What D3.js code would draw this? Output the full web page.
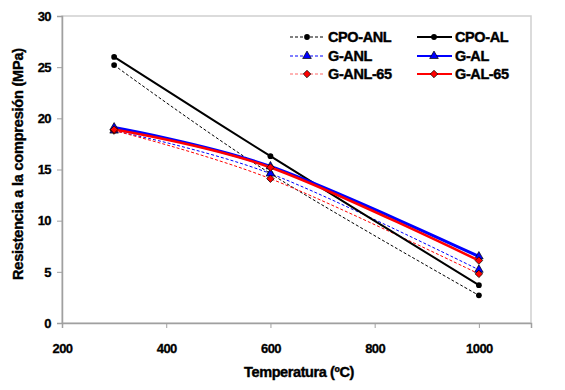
<!DOCTYPE html>
<html>
<head>
<meta charset="utf-8">
<script src="https://cdn.jsdelivr.net/npm/d3@7"></script>
<style>
  body { margin: 0; background: #fff; }
  text { font-family: "Liberation Sans", Arial, sans-serif; font-weight: bold; }
</style>
</head>
<body>
<div id="chart"></div>
<script>
const temps = [300, 600, 1000];
const cpoAnl = [25.2, 14.6, 2.7];
const cpoAl = [26.0, 16.3, 3.7];
const gAnl = [18.8, 14.6, 5.2];
const gAl = [19.1, 15.3, 6.5];
const gAnl65 = [18.8, 14.1, 4.8];
const gAl65 = [18.9, 15.2, 6.1];
const xTicks = [200, 400, 600, 800, 1000];
const yTicks = [0, 5, 10, 15, 20, 25, 30];

const series = [
  {name: 'CPO-ANL', values: cpoAnl, color: '#000', dash: '3,2', w: 1, marker: 'circle', col: 0, row: 0},
  {name: 'G-ANL', values: gAnl, color: '#0000ff', dash: '3,2', w: 1, marker: 'triangle', col: 0, row: 1},
  {name: 'G-ANL-65', values: gAnl65, color: '#ff0000', dash: '3,2', w: 1, marker: 'diamond', col: 0, row: 2},
  {name: 'CPO-AL', values: cpoAl, color: '#000', dash: null, w: 2, marker: 'circle', col: 1, row: 0},
  {name: 'G-AL', values: gAl, color: '#0000ff', dash: null, w: 3, marker: 'triangle', col: 1, row: 1},
  {name: 'G-AL-65', values: gAl65, color: '#ff0000', dash: null, w: 2.5, marker: 'diamond', col: 1, row: 2}
];

const width = 565, height = 390;
const margin = {top: 16, right: 34, bottom: 67, left: 62};
const w = width - margin.left - margin.right, h = height - margin.top - margin.bottom;

const svg = d3.select('#chart').append('svg').attr('width', width).attr('height', height);
const g = svg.append('g').attr('transform', 'translate(' + margin.left + ',' + margin.top + ')');

const x = d3.scaleLinear().domain([200, 1100]).range([0, w]);
const y = d3.scaleLinear().domain([0, 30]).range([h, 0]);

// frame
g.append('rect').attr('x', 0).attr('y', 0).attr('width', w).attr('height', h)
  .attr('fill', 'none').attr('stroke', '#cfcfcf').attr('stroke-width', 1.5);

const xAxis = g.append('g').attr('transform', 'translate(0,' + h + ')')
  .call(d3.axisBottom(x).tickValues(xTicks).tickFormat(d3.format('d')).tickSize(5).tickPadding(16));
const yAxis = g.append('g')
  .call(d3.axisLeft(y).tickValues(yTicks).tickSize(5).tickPadding(6));
[xAxis, yAxis].forEach(a => {
  a.select('.domain').attr('stroke', '#a0a0a0').attr('stroke-width', 1.5);
  a.selectAll('.tick line').attr('stroke', '#a0a0a0');
  a.selectAll('.tick text').attr('fill', '#000').attr('stroke', '#000').attr('stroke-width', 0.3)
    .style('font-size', '13px').style('letter-spacing', '-0.6px');
});

const line = d3.line().curve(d3.curveCardinal.tension(0))
  .x((d, i) => x(temps[i])).y(d => y(d));

const sym = {
  circle: d3.symbol().type(d3.symbolCircle).size(26),
  triangle: d3.symbol().type(d3.symbolTriangle).size(32),
  diamond: d3.symbol().type(d3.symbolSquare).size(28)
};

function drawMarker(sel, s, px, py) {
  sel.append('path').attr('d', sym[s.marker]())
    .attr('transform', 'translate(' + px + ',' + py + ')' + (s.marker === 'diamond' ? ' rotate(45)' : ''))
    .attr('fill', s.color).attr('stroke', '#000').attr('stroke-width', s.marker === 'circle' ? 0 : 0.7);
}

series.forEach(s => {
  g.append('path').attr('d', line(s.values)).attr('fill', 'none')
    .attr('stroke', s.color).attr('stroke-width', s.w)
    .attr('stroke-dasharray', s.dash);
  s.values.forEach((v, i) => drawMarker(g, s, x(temps[i]), y(v)));
});

// legend
const legX = [290, 417], legY = [37, 56, 74];
series.forEach(s => {
  const lx = legX[s.col], ly = legY[s.row];
  const lg = svg.append('g');
  lg.append('line').attr('x1', lx).attr('x2', lx + 35).attr('y1', ly).attr('y2', ly)
    .attr('stroke', s.color).attr('stroke-width', s.w === 1 ? 1 : 2)
    .attr('stroke-opacity', s.color === '#ff0000' && s.dash ? 0.6 : 1)
    .attr('stroke-dasharray', s.dash);
  drawMarker(lg, s, lx + 17, ly);
  lg.append('text').attr('x', lx + 38).attr('y', ly + 5).text(s.name)
    .attr('stroke', '#000').attr('stroke-width', 0.4)
    .style('font-size', '14.5px').style('letter-spacing', '-0.4px');
});

svg.append('text').attr('x', 299).attr('y', 377)
  .attr('text-anchor', 'middle').attr('stroke', '#000').attr('stroke-width', 0.4)
  .style('font-size', '14.5px').style('letter-spacing', '-0.4px')
  .text('Temperatura (ºC)');

svg.append('text').attr('transform', 'translate(23,164) rotate(-90)')
  .attr('text-anchor', 'middle').attr('stroke', '#000').attr('stroke-width', 0.4)
  .style('font-size', '14.5px').style('letter-spacing', '-0.2px')
  .text('Resistencia a la compresión (MPa)');
</script>
</body>
</html>
